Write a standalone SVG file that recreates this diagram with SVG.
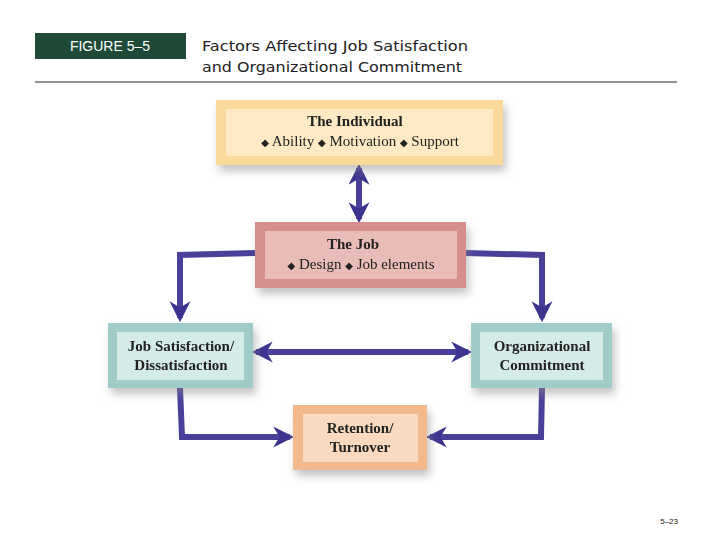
<svg xmlns="http://www.w3.org/2000/svg" width="720" height="540" viewBox="0 0 720 540">
<style>
.t{font-family:"Liberation Serif","DejaVu Serif",serif;font-weight:bold;font-size:15px;fill:#222;text-anchor:middle}
.s{font-family:"Liberation Serif","DejaVu Serif",serif;font-size:15px;fill:#222;text-anchor:middle}
.b{font-size:10px}
.c{fill:none;stroke:#4a3f99;stroke-width:6}
</style>
<defs>
<marker id="a" viewBox="0 0 10 10" refX="8" refY="5" markerWidth="3.5" markerHeight="3.5" orient="auto-start-reverse"><path d="M0,0 L10,5 L0,10 L3,5 z" fill="#3d3490"/></marker>
<filter id="sh" x="-10%" y="-10%" width="125%" height="140%"><feDropShadow dx="3" dy="6" stdDeviation="4" flood-color="#888" flood-opacity="0.5"/></filter>
</defs>
<rect width="720" height="540" fill="#fff"/>
<g id="header">
<rect x="35" y="33" width="151" height="26" fill="#1f4a38"/>
<text x="110" y="51" fill="#fff" font-family="Liberation Sans,Arial,sans-serif" font-size="14" text-anchor="middle">FIGURE 5–5</text>
<text x="202" y="51" fill="#222" font-family="DejaVu Sans,sans-serif" font-size="14.5" textLength="266" lengthAdjust="spacingAndGlyphs">Factors Affecting Job Satisfaction</text>
<text x="202" y="72" fill="#222" font-family="DejaVu Sans,sans-serif" font-size="14.5" textLength="260" lengthAdjust="spacingAndGlyphs">and Organizational Commitment</text>
<line x1="35" y1="82" x2="677" y2="82" stroke="#222" stroke-width="1"/>
</g>
<g id="connectors">
<line class="c" x1="359" y1="168" x2="359" y2="219" marker-start="url(#a)" marker-end="url(#a)" stroke-width="5"/>
<polyline class="c" points="255,253 180,255 180,318" marker-end="url(#a)"/>
<polyline class="c" points="466,253 542,255 542,318" marker-end="url(#a)"/>
<line class="c" x1="256" y1="352" x2="468" y2="352" marker-start="url(#a)" marker-end="url(#a)" stroke-width="5"/>
<polyline class="c" points="180,388 182,437 290,437" marker-end="url(#a)"/>
<polyline class="c" points="542,388 541,437 430,437" marker-end="url(#a)"/>
</g>
<g id="individual" filter="url(#sh)">
<rect x="216" y="100" width="287" height="65" fill="#fbd99a"/>
<rect x="226" y="109" width="267" height="47" fill="#fde9c4"/>
<text class="t" x="355" y="126">The Individual</text>
<text class="s" x="360" y="146"><tspan class="b">◆</tspan> Ability   <tspan class="b">◆</tspan> Motivation   <tspan class="b">◆</tspan> Support</text>
</g>
<g id="job" filter="url(#sh)">
<rect x="255" y="222" width="211" height="66" fill="#d48f8c"/>
<rect x="265" y="231" width="192" height="48" fill="#e9bcb8"/>
<text class="t" x="353" y="249">The Job</text>
<text class="s" x="361" y="269"><tspan class="b">◆</tspan> Design   <tspan class="b">◆</tspan> Job elements</text>
</g>
<g id="jobsat" filter="url(#sh)">
<rect x="108" y="323" width="145" height="65" fill="#9fcbc8"/>
<rect x="117" y="332" width="127" height="48" fill="#d4ebe8"/>
<text class="t" x="181" y="351">Job Satisfaction/</text>
<text class="t" x="181" y="370">Dissatisfaction</text>
</g>
<g id="orgcom" filter="url(#sh)">
<rect x="471" y="323" width="141" height="65" fill="#9fcbc8"/>
<rect x="480" y="332" width="123" height="48" fill="#d4ebe8"/>
<text class="t" x="542" y="351">Organizational</text>
<text class="t" x="542" y="370">Commitment</text>
</g>
<g id="retention" filter="url(#sh)">
<rect x="293" y="405" width="134" height="65" fill="#f2b98c"/>
<rect x="303" y="414" width="115" height="48" fill="#f9d9c0"/>
<text class="t" x="360" y="433">Retention/</text>
<text class="t" x="360" y="452">Turnover</text>
</g>
<text x="678" y="524" font-family="Liberation Sans,Arial,sans-serif" font-size="8" fill="#222" text-anchor="end">5–23</text>
</svg>
